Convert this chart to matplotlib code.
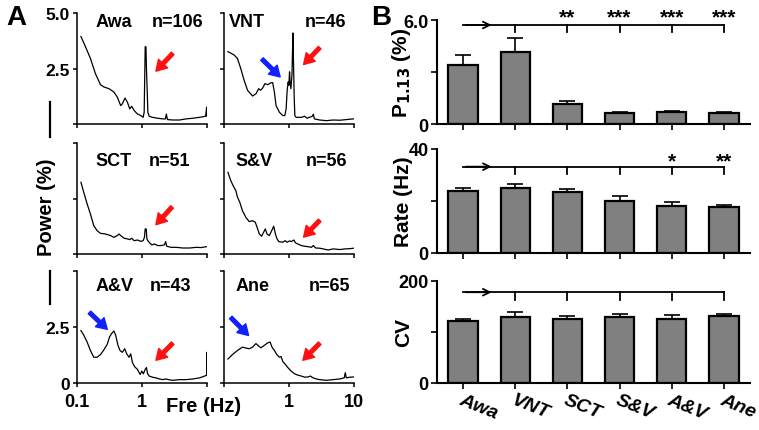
import matplotlib.pyplot as plt
from matplotlib.lines import Line2D

plt.rcParams['font.family'] = ['Liberation Sans', 'DejaVu Sans']
plt.rcParams['font.weight'] = 'bold'
plt.rcParams['axes.labelweight'] = 'bold'

# ---- panel A: power spectra (Hz, % power) ----
awa_f = [0.115, 0.135, 0.161, 0.192, 0.23, 0.259, 0.31, 0.37, 0.417, 0.47, 0.499, 0.548, 0.596, 0.648,
         0.695, 0.756, 0.851, 0.959, 1.04, 1.08, 1.12, 1.15, 1.17, 1.2, 1.23, 1.29, 1.45, 1.74, 2.08,
         2.29, 2.37, 2.46, 2.97, 3.77, 4.78, 6.07, 7.69, 9.53, 9.88, 10.0]
awa_p = [3.94, 3.48, 2.95, 2.27, 1.77, 1.67, 1.59, 1.44, 1.21, 0.83, 0.91, 1.17, 0.98, 0.68,
         0.80, 0.61, 0.45, 0.38, 0.30, 0.53, 3.48, 3.48, 2.5, 1.59, 0.53, 0.35, 0.30, 0.26, 0.23,
         0.23, 0.45, 0.20, 0.18, 0.18, 0.23, 0.26, 0.30, 0.35, 0.76, 0.35]

vnt_f = [0.115, 0.143, 0.161, 0.181, 0.204, 0.23, 0.275, 0.31, 0.341, 0.366, 0.393, 0.427, 0.47, 0.529,
         0.561, 0.596, 0.632, 0.712, 0.802, 0.862, 0.903, 0.937, 0.971, 0.994, 1.02, 1.04, 1.07, 1.11,
         1.15, 1.17, 1.2, 1.23, 1.29, 1.55, 1.74, 1.89, 2.29, 2.37, 2.46, 2.97, 3.77, 4.78, 6.07, 7.69, 9.77]
vnt_p = [3.26, 3.11, 2.95, 2.5, 1.97, 1.52, 1.26, 1.36, 1.59, 1.52, 1.62, 1.82, 1.77, 1.86,
         1.86, 1.44, 0.83, 0.53, 0.38, 0.38, 0.68, 1.52, 1.89, 1.74, 2.35, 1.89, 1.59, 2.2,
         4.1, 2.95, 1.29, 0.38, 0.30, 0.30, 0.35, 0.26, 0.35, 0.44, 0.23, 0.18, 0.15, 0.18, 0.17, 0.20, 0.23]

sct_f = [0.115, 0.127, 0.143, 0.161, 0.181, 0.204, 0.23, 0.275, 0.329, 0.37, 0.417, 0.443, 0.47, 0.529,
         0.596, 0.648, 0.695, 0.756, 0.851, 0.959, 1.04, 1.09, 1.12, 1.16, 1.19, 1.23, 1.31, 1.42,
         1.55, 1.74, 1.96, 2.21, 2.31, 2.40, 2.80, 3.35, 4.25, 5.38, 6.84, 8.17, 9.77]
sct_p = [3.23, 2.78, 2.26, 1.80, 1.28, 1.05, 0.93, 0.90, 0.83, 0.75, 0.83, 0.90, 0.83, 0.71,
         0.68, 0.65, 0.71, 0.60, 0.63, 0.57, 0.60, 0.75, 1.13, 1.13, 0.68, 0.60, 0.50, 0.41,
         0.45, 0.38, 0.38, 0.41, 0.56, 0.35, 0.30, 0.30, 0.27, 0.27, 0.30, 0.29, 0.33]

sv_f = [0.115, 0.127, 0.138, 0.152, 0.161, 0.175, 0.192, 0.217, 0.244, 0.275, 0.303, 0.329, 0.349, 0.379,
        0.407, 0.432, 0.459, 0.499, 0.542, 0.582, 0.618, 0.655, 0.695, 0.802, 0.873, 0.937, 1.02, 1.09,
        1.19, 1.26, 1.37, 1.55, 1.74, 1.96, 2.21, 2.37, 2.58, 2.97, 3.35, 4.00, 4.78, 6.07, 7.25, 8.67, 9.77]
sv_p = [3.68, 3.31, 3.08, 2.86, 2.56, 2.33, 1.95, 1.65, 1.46, 1.50, 1.43, 1.13, 0.90, 0.80,
        0.98, 1.13, 0.90, 0.83, 1.05, 1.25, 0.90, 0.68, 0.56, 0.53, 0.60, 0.53, 0.59, 0.56,
        0.63, 0.50, 0.45, 0.38, 0.35, 0.33, 0.30, 0.38, 0.27, 0.26, 0.23, 0.18, 0.23, 0.20, 0.23, 0.24, 0.26]

av_f = [0.115, 0.127, 0.143, 0.161, 0.181, 0.204, 0.23, 0.259, 0.292, 0.317, 0.341, 0.37, 0.393, 0.427,
        0.459, 0.499, 0.542, 0.582, 0.632, 0.671, 0.712, 0.774, 0.851, 0.937, 0.994, 1.05, 1.12, 1.17,
        1.22, 1.29, 1.45, 1.64, 1.85, 2.08, 2.34, 2.64, 2.97, 3.77, 4.78, 6.07, 7.69, 9.2, 9.88, 9.95, 10.0]
av_p = [2.34, 2.14, 1.83, 1.45, 1.15, 1.15, 1.27, 1.48, 1.73, 2.06, 2.21, 2.32, 2.14, 1.68,
        1.45, 1.37, 1.53, 1.30, 1.15, 1.30, 0.92, 0.72, 0.61, 0.38, 0.53, 0.41, 0.61, 0.69,
        0.41, 0.31, 0.26, 0.23, 0.18, 0.15, 0.18, 0.14, 0.12, 0.15, 0.15, 0.18, 0.23, 0.31, 0.35, 1.37, 0.35]

ane_f = [0.115, 0.135, 0.161, 0.192, 0.217, 0.244, 0.275, 0.31, 0.341, 0.37, 0.417, 0.47, 0.511, 0.548,
         0.596, 0.648, 0.712, 0.756, 0.802, 0.873, 0.959, 1.08, 1.22, 1.37, 1.55, 1.74, 1.96, 2.13,
         2.34, 2.64, 2.97, 3.77, 4.78, 6.07, 7.08, 7.34, 7.61, 8.67, 10.0]
ane_p = [1.07, 1.27, 1.45, 1.60, 1.56, 1.53, 1.60, 1.76, 1.65, 1.57, 1.68, 1.79, 1.83, 1.60,
         1.45, 1.27, 1.15, 1.18, 0.96, 0.84, 0.69, 0.53, 0.41, 0.35, 0.31, 0.26, 0.27, 0.31,
         0.23, 0.18, 0.15, 0.12, 0.15, 0.18, 0.23, 0.46, 0.23, 0.26, 0.27]

spec_names = ['Awa', 'VNT', 'SCT', 'S&V', 'A&V', 'Ane']
spec_n = [106, 46, 51, 56, 43, 65]

# ---- panel B: group means and SEM ----
groups = ['Awa', 'VNT', 'SCT', 'S&V', 'A&V', 'Ane']
p113 = [3.40, 4.15, 1.15, 0.63, 0.69, 0.63]
p113_err = [0.58, 0.80, 0.18, 0.07, 0.05, 0.04]
rate = [24.0, 24.9, 23.3, 20.1, 18.2, 17.6]
rate_err = [0.9, 1.6, 1.3, 1.7, 1.3, 0.9]
cv = [122, 130, 125.5, 128.8, 125.5, 130.8]
cv_err = [3.5, 10, 5.5, 5.8, 8.5, 5.2]
p113_stars = ['', '', '**', '***', '***', '***']
rate_stars = ['', '', '', '', '*', '**']
cv_stars = ['', '', '', '', '', '']

W, H = 759, 431
fig = plt.figure(figsize=(W / 100, H / 100), dpi=100)


def px_axes(x, y, w, h):
    return fig.add_axes([x / W, 1 - (y + h) / H, w / W, h / H])


curves = [(awa_f, awa_p), (vnt_f, vnt_p), (sct_f, sct_p), (sv_f, sv_p), (av_f, av_p), (ane_f, ane_p)]
col_x = [77, 224]
row_y = [(14, 111), (144, 111), (272, 112)]
title_pos = [(0.14, 0.975, 0.92), (0.035, 0.94, 0.92), (0.14, 0.87, 0.84),
             (0.09, 0.95, 0.84), (0.14, 0.88, 0.87), (0.09, 0.97, 0.87)]
red_arrows = [((0.736, 0.636), (0.607, 0.476)), ((0.736, 0.688), (0.612, 0.536)),
              ((0.731, 0.424), (0.607, 0.264)), ((0.736, 0.303), (0.612, 0.152)),
              ((0.736, 0.355), (0.607, 0.203)), ((0.736, 0.355), (0.607, 0.203))]
blue_arrows = {1: ((0.292, 0.585), (0.432, 0.424)),
               4: ((0.096, 0.630), (0.233, 0.479)),
               5: ((0.052, 0.585), (0.189, 0.424))}

for i, (f, p) in enumerate(curves):
    r, c = divmod(i, 2)
    ax = px_axes(col_x[c], row_y[r][0], 130, row_y[r][1])
    ax.plot(f, p, color='black', lw=0.9)
    ax.set_xscale('log')
    ax.set_xlim(0.1, 10)
    ax.set_ylim(0, 5)
    ax.set_xticks([0.1, 1, 10])
    ax.minorticks_off()
    ax.set_yticks([0, 2.5, 5])
    for s in ['top', 'right']:
        ax.spines[s].set_visible(False)
    for s in ['left', 'bottom']:
        ax.spines[s].set_linewidth(1.1)
    ax.tick_params(direction='out', length=3, width=1.1, labelsize=12.5, pad=2)
    ax.tick_params(axis='x', labelsize=13, pad=4)
    # tick labels only where the figure shows them
    if c == 0 and r == 0:
        ax.set_yticklabels(['', '2.5', '5.0'])
    elif c == 0 and r == 2:
        ax.set_yticklabels(['0', '2.5', ''])
    else:
        ax.set_yticklabels([])
    if r == 2:
        ax.set_xticklabels(['0.1', '1', ''] if c == 0 else ['', '1', '10'])
    else:
        ax.set_xticklabels([])
    tx0, tx1, ty = title_pos[i]
    ax.text(tx0, ty, spec_names[i], transform=ax.transAxes, fontsize=13, va='center', ha='left')
    ax.text(tx1, ty, 'n=%d' % spec_n[i], transform=ax.transAxes, fontsize=13, va='center', ha='right')
    tail, head = red_arrows[i]
    ax.annotate('', xy=head, xytext=tail, xycoords='axes fraction',
                arrowprops=dict(facecolor='#ff1010', edgecolor='#ff1010', width=2.6,
                                headwidth=9, headlength=7.5, shrink=0))
    if i in blue_arrows:
        tail, head = blue_arrows[i]
        ax.annotate('', xy=head, xytext=tail, xycoords='axes fraction',
                    arrowprops=dict(facecolor='#1020ff', edgecolor='#1020ff', width=2.6,
                                    headwidth=9, headlength=7.5, shrink=0))

fig.text(46 / W, 1 - 207 / H, 'Power (%)', rotation=90, ha='center', va='center', fontsize=14.5)
fig.text(204 / W, 1 - 407 / H, 'Fre (Hz)', ha='center', va='center', fontsize=14.5)
for y1, y2 in [(103, 138), (272, 305)]:
    fig.add_artist(Line2D([50 / W, 50 / W], [1 - y1 / H, 1 - y2 / H], transform=fig.transFigure,
                          color='black', lw=1.6))

fig.text(16 / W, 1 - 18 / H, 'A', ha='center', va='center', fontsize=20)
fig.text(381 / W, 1 - 18 / H, 'B', ha='center', va='center', fontsize=20)

# ---- panel B ----
bar_panels = [
    (21, 104, p113, p113_err, 6.0, ['0', '', '6.0'], r'P$_{\mathbf{1.13}}$ (%)', p113_stars, 5.71, 5.3, 6.2),
    (150, 104, rate, rate_err, 40, ['0', '', '40'], 'Rate (Hz)', rate_stars, 33.2, 30.4, 35.6),
    (282, 102, cv, cv_err, 200, ['0', '', '200'], 'CV', cv_stars, 178, 163, 195),
]
x = list(range(len(groups)))
for k, (ytop, hgt, vals, errs, ymax, ylabs, ylab, stars, yline, ydrop, ystar) in enumerate(bar_panels):
    ax = px_axes(437, ytop, 313, hgt)
    ax.bar(x, vals, width=0.56, color='#808080', edgecolor='black', linewidth=1.6, zorder=2)
    ax.errorbar(x, vals, yerr=[[0] * len(errs), errs], fmt='none', ecolor='black',
                elinewidth=1.2, capsize=6, capthick=1.2, zorder=1)
    ax.set_xlim(-0.5, 5.5)
    ax.set_ylim(0, ymax)
    ax.set_yticks([0, ymax / 2, ymax])
    ax.set_yticklabels(ylabs)
    ax.set_xticks(x)
    for s in ['top', 'right']:
        ax.spines[s].set_visible(False)
    for s in ['left', 'bottom']:
        ax.spines[s].set_linewidth(1.5)
    ax.tick_params(direction='out', length=4, width=1.2, labelsize=13, pad=2)
    ax.set_ylabel(ylab, fontsize=15)
    ax.yaxis.set_label_coords(-0.077, 0.5)
    if k == 2:
        ax.set_xticklabels(groups, rotation=-22, ha='left', rotation_mode='anchor',
                           fontsize=14, style='italic')
    else:
        ax.set_xticklabels([])
    # comparison bracket against Awa
    ax.plot([0, 5], [yline, yline], color='black', lw=1.3, clip_on=False)
    ax.annotate('', xy=(0.6, yline), xytext=(0, yline),
                arrowprops=dict(arrowstyle='->', color='black', lw=1.3, mutation_scale=12),
                annotation_clip=False)
    for j in range(1, len(groups)):
        ax.plot([j, j], [yline, ydrop], color='black', lw=1.3, clip_on=False)
        if stars[j]:
            ax.text(j, ystar, stars[j], ha='center', va='center', fontsize=15, clip_on=False)

fig.savefig('out.png', dpi=100)
